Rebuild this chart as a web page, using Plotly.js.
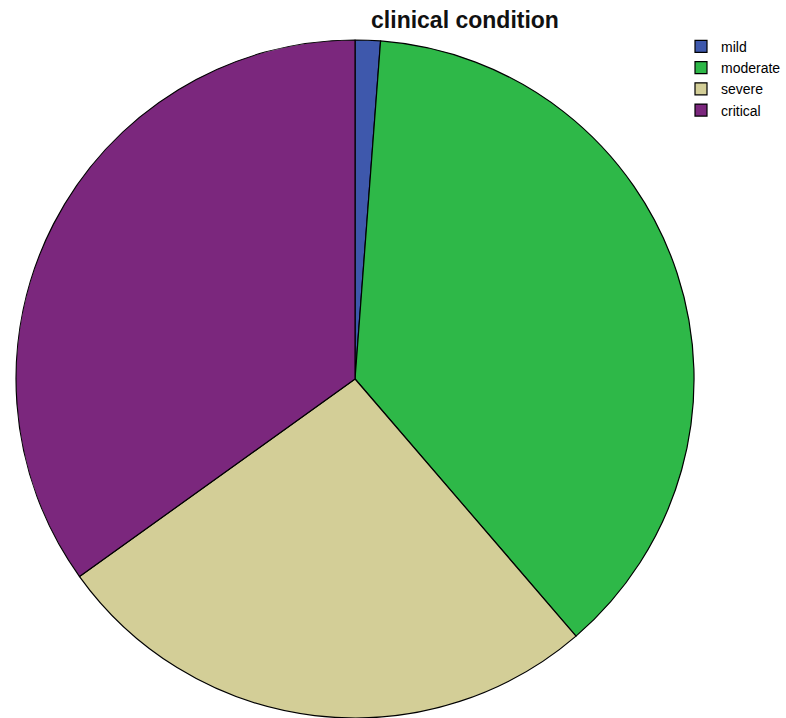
<!DOCTYPE html>
<html>
<head>
<meta charset="utf-8">
<script src="https://cdn.plot.ly/plotly-3.0.1.min.js"></script>
<style>html,body{margin:0;padding:0;background:#fff;}#chart{width:786px;height:718px;}</style>
</head>
<body>
<div id="chart"></div>
<script>
const categories = ["mild", "moderate", "severe", "critical"];
const percentages = [1.2, 37.5, 26.4, 34.9];
const colors = ["#3E58AC", "#2EB848", "#D3CE97", "#7B277D"];

const data = [{
  type: "pie",
  labels: categories,
  values: percentages,
  sort: false,
  direction: "clockwise",
  rotation: 0,
  textinfo: "none",
  hoverinfo: "label+percent",
  marker: {colors: colors, line: {color: "#000000", width: 1.2}},
  domain: {x: [0.0204, 0.8830], y: [0, 0.9443]}
}];

const layout = {
  width: 786, height: 718,
  margin: {l: 0, r: 0, t: 0, b: 0},
  paper_bgcolor: "#ffffff",
  font: {family: "Liberation Sans, Arial, sans-serif", color: "#000"},
  title: {text: "<b>clinical condition</b>", x: 0.5916, xanchor: "center", y: 0.972, yanchor: "middle", font: {size: 23, color: "#111"}},
  showlegend: true,
  legend: {x: 1.0, y: 0.957, xanchor: "right", yanchor: "top", font: {size: 14}, itemwidth: 30, traceorder: "normal", bgcolor: "rgba(0,0,0,0)"}
};

Plotly.newPlot("chart", data, layout, {displayModeBar: false, staticPlot: true});
</script>
</body>
</html>
